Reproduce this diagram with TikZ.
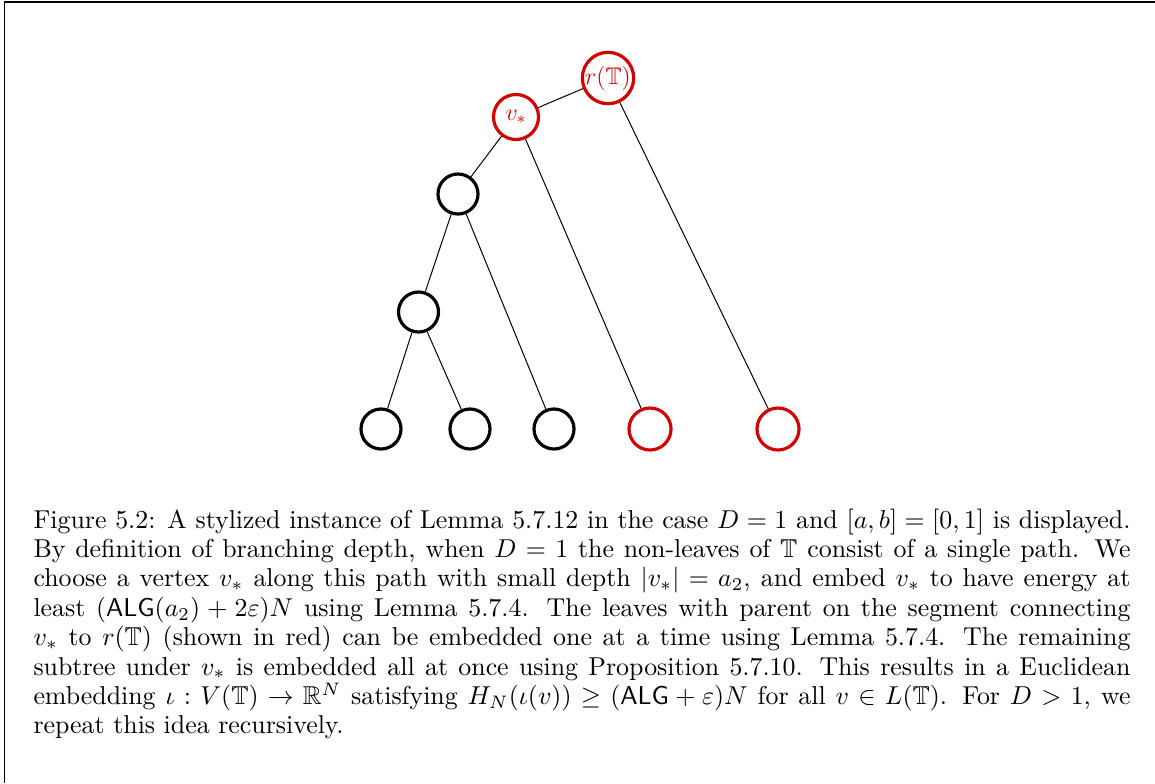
\documentclass[tikz,border=0pt]{standalone}
\usepackage{amsmath,amssymb}
\definecolor{treered}{RGB}{210,0,0}
\begin{document}
\begin{tikzpicture}[x=0.5pt,y=-0.5pt,
  vtx/.style={circle,draw=black,line width=1.6pt,inner sep=0pt,minimum size=20pt},
  rvtx/.style={circle,draw=treered,line width=1.6pt,inner sep=0pt,minimum size=21pt,text=treered},
  lbl/.style={font=\fontsize{12}{14}\selectfont},
  edge/.style={line width=0.5pt,black}]
\useasboundingbox (0,0) rectangle (1155,783);
\draw[line width=0.6pt] (4.7,783) -- (4.7,2) -- (1155,2);
\node[rvtx,lbl,minimum size=23.5pt] (root) at (608,78) {$r(\mathbb{T})$};
\node[rvtx,lbl,minimum size=22.5pt] (vs) at (516,117) {$v_*$};
\node[vtx] (n1) at (458,194) {};
\node[vtx] (n2) at (418.5,312) {};
\node[vtx] (l1) at (381,429) {};
\node[vtx] (l2) at (470,429) {};
\node[vtx] (l3) at (554,429) {};
\node[rvtx] (l4) at (650,429) {};
\node[rvtx] (l5) at (778,429) {};
\draw[edge] (root) -- (vs);
\draw[edge] (root) -- (l5);
\draw[edge] (vs) -- (n1);
\draw[edge] (vs) -- (l4);
\draw[edge] (n1) -- (n2);
\draw[edge] (n1) -- (l3);
\draw[edge] (n2) -- (l1);
\draw[edge] (n2) -- (l2);
\node[anchor=base west,inner sep=0pt,scale=1.293,text width=424.2pt,align=justify,font=\fontsize{10}{11.37}\selectfont] (cap) at (33,528) {Figure 5.2: A stylized instance of Lemma 5.7.12 in the case $D=1$ and $[a,b]=[0,1]$ is displayed.\linebreak
By definition of branching depth, when $D=1$ the non-leaves of $\mathbb{T}$ consist of a single path. We\linebreak
choose a vertex $v_*$ along this path with small depth $|v_*|=a_2$, and embed $v_*$ to have energy at\linebreak
least $(\mathsf{ALG}(a_2)+2\varepsilon)N$ using Lemma 5.7.4. The leaves with parent on the segment connecting\linebreak
$v_*$ to $r(\mathbb{T})$ (shown in red) can be embedded one at a time using Lemma 5.7.4. The remaining\linebreak
subtree under $v_*$ is embedded all at once using Proposition 5.7.10. This results in a Euclidean\linebreak
embedding $\iota:V(\mathbb{T})\to\mathbb{R}^N$ satisfying $H_N(\iota(v))\ge(\mathsf{ALG}+\varepsilon)N$ for all $v\in L(\mathbb{T})$. For $D>1$, we\linebreak
repeat this idea recursively.};
\end{tikzpicture}
\end{document}
